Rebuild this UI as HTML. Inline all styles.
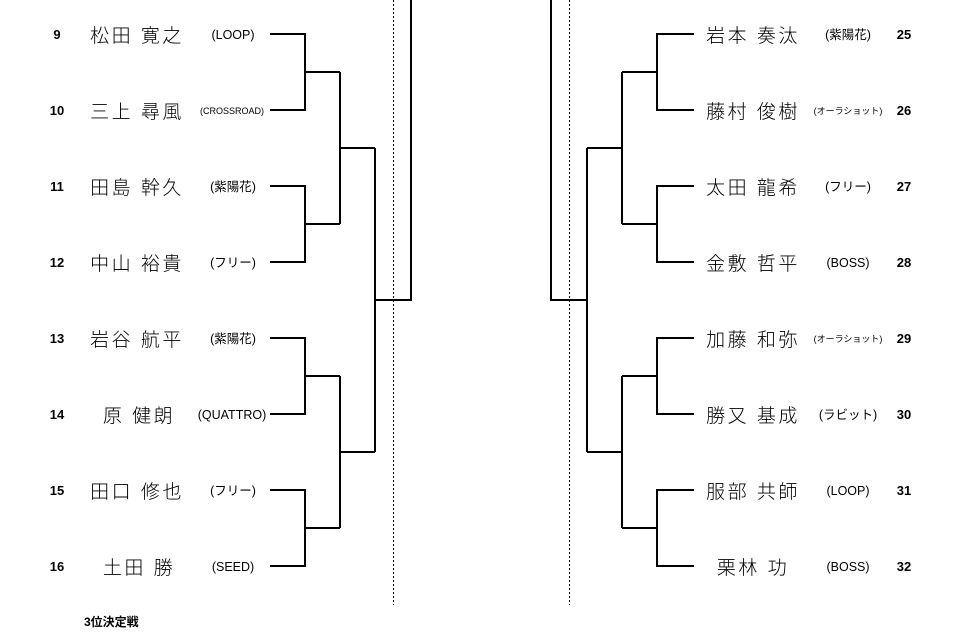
<!DOCTYPE html>
<html><head><meta charset="utf-8"><style>
html,body{margin:0;padding:0;background:#fff;}
svg{display:block;}
.n{font-family:"Liberation Sans",sans-serif;font-weight:bold;font-size:13px;fill:#000;}
.nm{font-family:"Liberation Sans","Noto Sans CJK JP",sans-serif;font-size:19px;font-weight:300;letter-spacing:2.5px;fill:#000;}
.t{font-family:"Liberation Sans","Noto Sans CJK JP",sans-serif;font-size:12.5px;fill:#000;}
.ts{font-family:"Liberation Sans","Noto Sans CJK JP",sans-serif;font-size:9px;fill:#000;}
</style></head><body>
<svg width="965" height="641" viewBox="0 0 965 641" xmlns="http://www.w3.org/2000/svg">
<g stroke="#000" stroke-width="2" fill="none">
<path d="M270 34H305V110H270M305 72H340"/>
<path d="M270 186H305V262H270M305 224H340"/>
<path d="M270 338H305V414H270M305 376H340"/>
<path d="M270 490H305V566H270M305 528H340"/>
<path d="M340 72V224M340 148H375M340 376V528M340 452H375"/>
<path d="M375 148V452M375 300H411V0"/>
<path d="M694 34H657V110H694M657 72H622"/>
<path d="M694 186H657V262H694M657 224H622"/>
<path d="M694 338H657V414H694M657 376H622"/>
<path d="M694 490H657V566H694M657 528H622"/>
<path d="M622 72V224M622 148H587M622 376V528M622 452H587"/>
<path d="M587 148V452M587 300H551V0"/>
</g>
<g stroke="#000" stroke-width="1" stroke-dasharray="2,2">
<line x1="393.5" y1="0" x2="393.5" y2="605"/>
<line x1="569.5" y1="0" x2="569.5" y2="605"/>
</g>
<g class="n" text-anchor="middle">
<text x="57" y="39">9</text><text x="57" y="115">10</text><text x="57" y="191">11</text><text x="57" y="267">12</text>
<text x="57" y="343">13</text><text x="57" y="419">14</text><text x="57" y="495">15</text><text x="57" y="571">16</text>
<text x="904" y="39">25</text><text x="904" y="115">26</text><text x="904" y="191">27</text><text x="904" y="267">28</text>
<text x="904" y="343">29</text><text x="904" y="419">30</text><text x="904" y="495">31</text><text x="904" y="571">32</text>
</g>
<g class="nm" text-anchor="middle">
<text x="137" y="42">松田 寛之</text><text x="137" y="118">三上 尋風</text><text x="137" y="194">田島 幹久</text><text x="137" y="270">中山 裕貴</text>
<text x="137" y="346">岩谷 航平</text><text x="139" y="422">原 健朗</text><text x="137" y="498">田口 修也</text><text x="139" y="574">土田 勝</text>
<text x="753" y="42">岩本 奏汰</text><text x="753" y="118">藤村 俊樹</text><text x="753" y="194">太田 龍希</text><text x="753" y="270">金敷 哲平</text>
<text x="753" y="346">加藤 和弥</text><text x="753" y="422">勝又 基成</text><text x="753" y="498">服部 共師</text><text x="753" y="574">栗林 功</text>
</g>
<g class="t" text-anchor="middle">
<text x="233" y="39">(LOOP)</text><text x="233" y="191">(紫陽花)</text><text x="233" y="267">(フリー)</text>
<text x="233" y="343">(紫陽花)</text><text x="232" y="419">(QUATTRO)</text><text x="233" y="495">(フリー)</text><text x="233" y="571">(SEED)</text>
<text x="848" y="39">(紫陽花)</text><text x="848" y="191">(フリー)</text><text x="848" y="267">(BOSS)</text>
<text x="848" y="419">(ラビット)</text><text x="848" y="495">(LOOP)</text><text x="848" y="571">(BOSS)</text>
</g>
<g class="ts" text-anchor="middle">
<text x="232" y="114">(CROSSROAD)</text>
<text x="848" y="114">(オーラショット)</text>
<text x="848" y="342">(オーラショット)</text>
</g>
<text x="84" y="626" font-family="'Liberation Sans','Noto Sans CJK JP',sans-serif" font-weight="bold" font-size="12">3位決定戦</text>
</svg>
</body></html>
